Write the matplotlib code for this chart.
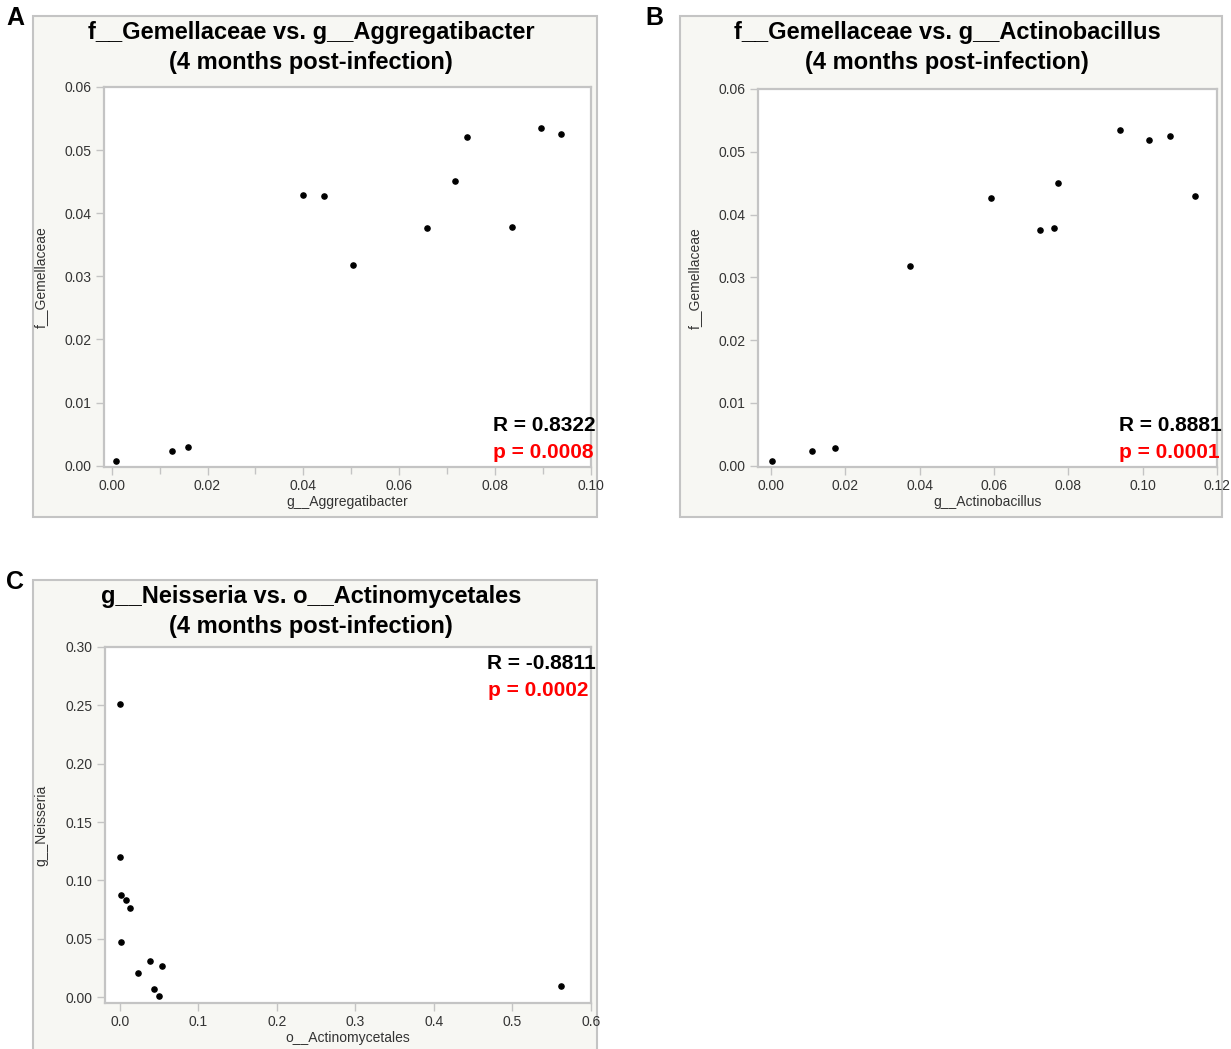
import matplotlib
matplotlib.use("Agg")
import matplotlib.pyplot as plt
from matplotlib.patches import Rectangle
from matplotlib.ticker import MultipleLocator

plt.rcParams['font.family'] = ['Liberation Sans', 'DejaVu Sans']

W, H = 1231, 1049

# panel A: g__Aggregatibacter vs f__Gemellaceae
a_x = [0.0009, 0.0125, 0.0160, 0.0400, 0.0443, 0.0503, 0.0658, 0.0717, 0.0741, 0.0835, 0.0896, 0.0937]
a_y = [0.0007, 0.0023, 0.0029, 0.0429, 0.0428, 0.0318, 0.0376, 0.0451, 0.0520, 0.0379, 0.0535, 0.0526]

# panel B: g__Actinobacillus vs f__Gemellaceae
b_x = [0.0003, 0.0109, 0.0173, 0.0373, 0.0592, 0.0724, 0.0761, 0.0772, 0.0939, 0.1018, 0.1074, 0.1142]
b_y = [0.0007, 0.0023, 0.0029, 0.0318, 0.0426, 0.0376, 0.0378, 0.0450, 0.0534, 0.0519, 0.0525, 0.0430]

# panel C: o__Actinomycetales vs g__Neisseria
c_x = [0.0000, 0.0000, 0.0010, 0.0079, 0.0123, 0.0010, 0.0236, 0.0388, 0.0535, 0.0432, 0.0496, 0.5623]
c_y = [0.2514, 0.1200, 0.0871, 0.0831, 0.0766, 0.0474, 0.0209, 0.0309, 0.0266, 0.0071, 0.0014, 0.0097]

fig = plt.figure(figsize=(W / 100, H / 100), dpi=100)
fig.patch.set_facecolor('white')

FRAME_BG = '#f7f7f3'
AXIS_GRAY = '#c4c4c4'


def px_rect(x0, y0, x1, y1):
    # pixel box (top-left origin) -> figure fraction [l, b, w, h]
    return [x0 / W, 1 - y1 / H, (x1 - x0) / W, (y1 - y0) / H]


def frame(x0, y0, x1, y1, title, ty):
    l, b, w, h = px_rect(x0, y0, x1, y1)
    fig.patches.append(Rectangle((l, b), w, h, transform=fig.transFigure,
                                 facecolor=FRAME_BG, edgecolor=AXIS_GRAY, lw=1.5, zorder=-5))
    cx = (x0 + x1) / 2 - 4
    for i, line in enumerate(title):
        fig.text(cx / W, 1 - (ty + 30 * i) / H, line, fontsize=17, fontweight='bold',
                 ha='center', va='center')


def panel(box, xs, ys, xlim, ylim, xstep, ystep, xminor, xlabel, ylabel,
          r_txt, p_txt, stats_top, xfmt, yfmt):
    ax = fig.add_axes(px_rect(*box))
    ax.scatter(xs, ys, s=14, color='black', zorder=3, clip_on=False)
    ax.set_xlim(*xlim)
    ax.set_ylim(*ylim)
    ax.xaxis.set_major_locator(MultipleLocator(xstep))
    ax.yaxis.set_major_locator(MultipleLocator(ystep))
    if xminor:
        ax.xaxis.set_minor_locator(MultipleLocator(xminor))
        ax.tick_params(axis='x', which='minor', length=5, width=1, color=AXIS_GRAY)
    ax.xaxis.set_major_formatter(xfmt)
    ax.yaxis.set_major_formatter(yfmt)
    for s in ax.spines.values():
        s.set_color(AXIS_GRAY)
        s.set_linewidth(1.6)
    ax.tick_params(which='major', length=6, width=1, color=AXIS_GRAY,
                   labelsize=10, labelcolor='#333333', pad=3)
    ax.set_xlabel(xlabel, fontsize=10, color='#333333', labelpad=1)
    ax.set_ylabel(ylabel, fontsize=10, color='#333333', labelpad=12)
    if stats_top:
        ax.text(1.01, 0.98, r_txt, transform=ax.transAxes, ha='right', va='top',
                fontsize=15, fontweight='bold', color='black')
        ax.text(0.995, 0.905, p_txt, transform=ax.transAxes, ha='right', va='top',
                fontsize=15, fontweight='bold', color='red')
    else:
        ax.text(1.01, 0.085, r_txt, transform=ax.transAxes, ha='right', va='bottom',
                fontsize=15, fontweight='bold', color='black')
        ax.text(1.005, 0.012, p_txt, transform=ax.transAxes, ha='right', va='bottom',
                fontsize=15, fontweight='bold', color='red')
    return ax


fmt2 = lambda v, pos: '%.2f' % v
fmt1 = lambda v, pos: '%.1f' % v

frame(33, 16, 597, 517, ['f__Gemellaceae vs. g__Aggregatibacter', '(4 months post-infection)'], 33)
frame(680, 16, 1222, 517, ['f__Gemellaceae vs. g__Actinobacillus', '(4 months post-infection)'], 33)
frame(33, 580, 597, 1060, ['g__Neisseria vs. o__Actinomycetales', '(4 months post-infection)'], 596)

panel((104, 87, 591, 467), a_x, a_y, (-0.0016, 0.100), (-0.0002, 0.06), 0.02, 0.01, 0.01,
      'g__Aggregatibacter', 'f__Gemellaceae',
      'R = 0.8322', 'p = 0.0008', False, fmt2, fmt2)

panel((758, 89, 1217, 467), b_x, b_y, (-0.0035, 0.12), (-0.0002, 0.06), 0.02, 0.01, None,
      'g__Actinobacillus', 'f__Gemellaceae',
      'R = 0.8881', 'p = 0.0001', False, fmt2, fmt2)

panel((105, 647, 591, 1003), c_x, c_y, (-0.019, 0.6), (-0.005, 0.30), 0.1, 0.05, None,
      'o__Actinomycetales', 'g__Neisseria',
      'R = -0.8811', 'p = 0.0002', True, fmt1, fmt2)

for lab, x, y in [('A', 6, 18), ('B', 645, 18), ('C', 6, 582)]:
    fig.text(x / W, 1 - y / H, lab, fontsize=18, fontweight='bold', va='center', ha='left')

fig.savefig('out.png', dpi=100, facecolor='white')
